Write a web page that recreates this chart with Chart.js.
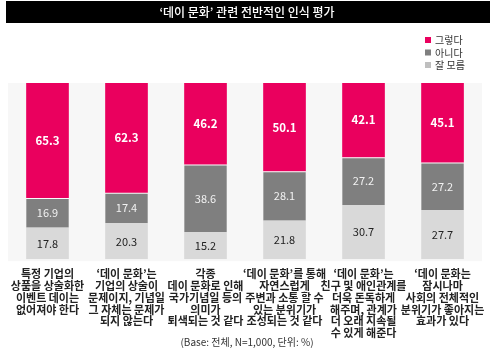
<!DOCTYPE html>
<html><head><meta charset="utf-8">
<script src="https://cdn.jsdelivr.net/npm/chart.js@4"></script>
<style>html,body{margin:0;padding:0;background:#fff;}canvas{display:block;}</style>
</head><body>
<canvas id="c" width="494" height="355"></canvas>
<script>
const titleText = "‘데이 문화’ 관련 전반적인 인식 평가";
const footnote = "(Base: 전체, N=1,000, 단위: %)";
const categories = [
  ["특정 기업의","상품을 상술화한","이벤트 데이는","없어져야 한다"],
  ["‘데이 문화’는","기업의 상술이","문제이지, 기념일","그 자체는 문제가","되지 않는다"],
  ["각종","데이 문화로 인해","국가기념일 등의","의미가","퇴색되는 것 같다"],
  ["‘데이 문화’를 통해","자연스럽게","주변과 소통 할 수","있는 분위기가","조성되는 것 같다"],
  ["‘데이 문화’는","친구 및 애인관계를","더욱 돈독하게","해주며, 관계가","더 오래 지속될","수 있게 해준다"],
  ["‘데이 문화는","잠시나마","사회의 전체적인","분위기가 좋아지는","효과가 있다"]
];
const seriesNames = ["그렇다","아니다","잘 모름"];
const yes = [65.3, 62.3, 46.2, 50.1, 42.1, 45.1];
const no = [16.9, 17.4, 38.6, 28.1, 27.2, 27.2];
const dunno = [17.8, 20.3, 15.2, 21.8, 30.7, 27.7];

const FONT = "'Noto Sans CJK KR', 'Noto Sans', sans-serif";
const PINK = "#EA005E", GRAY = "#7F7F7F", LIGHT = "#D9D9D9";
const legendColors = [PINK, GRAY, "#BFBFBF"];

const decor = {
  id: 'decor',
  beforeDraw(chart) {
    const {ctx, chartArea: a} = chart;
    ctx.save();
    ctx.fillStyle = "#F7F7F7";
    ctx.fillRect(a.left, a.top, a.right - a.left, a.bottom - a.top + 2);
    ctx.fillStyle = "#000";
    ctx.fillRect(6, 1, 484, 22);
    ctx.fillStyle = "#fff";
    ctx.font = "500 12px " + FONT;
    ctx.textAlign = "center"; ctx.textBaseline = "middle";
    ctx.fillText(titleText, 247, 12.5);
    ctx.font = "10px " + FONT;
    ctx.textAlign = "left";
    seriesNames.forEach((n, i) => {
      const y = 40 + i * 12.5;
      ctx.fillStyle = legendColors[i];
      ctx.fillRect(425, y - 3, 6, 6);
      ctx.fillStyle = "#333";
      ctx.fillText(n, 435, y + 0.5);
    });
    ctx.font = "10px " + FONT;
    ctx.textAlign = "center";
    ctx.fillStyle = "#333";
    ctx.fillText(footnote, 247, 342);
    ctx.restore();
  },
  afterDatasetsDraw(chart) {
    const {ctx} = chart;
    ctx.save();
    ctx.textAlign = "center"; ctx.textBaseline = "middle";
    chart.data.datasets.forEach((ds, di) => {
      const meta = chart.getDatasetMeta(di);
      meta.data.forEach((el, i) => {
        const v = ds.data[i];
        const y = (el.y + el.base) / 2;
        if (ds.label === "그렇다") { ctx.font = "bold 11.5px " + FONT; ctx.fillStyle = "#fff"; }
        else if (ds.label === "아니다") { ctx.font = "11px " + FONT; ctx.fillStyle = "#F2F2F2"; }
        else { ctx.font = "11px " + FONT; ctx.fillStyle = "#222"; }
        ctx.fillText(v.toFixed(1), el.x, y);
      });
    });
    ctx.restore();
  }
};

new Chart(document.getElementById('c'), {
  type: 'bar',
  data: {
    labels: categories,
    datasets: [
      {label: seriesNames[2], data: dunno, backgroundColor: LIGHT},
      {label: seriesNames[1], data: no, backgroundColor: GRAY, borderColor: "rgba(255,255,255,0.35)", borderWidth: {top: 1}, borderSkipped: false},
      {label: seriesNames[0], data: yes, backgroundColor: PINK, borderColor: "rgba(255,255,255,0.35)", borderWidth: {top: 0}, borderSkipped: false}
    ]
  },
  options: {
    responsive: false,
    animation: false,
    layout: {padding: {top: 83, left: 8, right: 9, bottom: 7}},
    plugins: {legend: {display: false}, tooltip: {enabled: false}, title: {display: false}},
    datasets: {bar: {categoryPercentage: 1, barPercentage: 0.54}},
    scales: {
      x: {
        stacked: true,
        grid: {display: false, drawTicks: false},
        border: {display: false},
        ticks: {
          autoSkip: false, maxRotation: 0, minRotation: 0, padding: 9,
          color: "#222",
          font: {family: FONT, size: 11, weight: 'bold', lineHeight: '11.8px'}
        }
      },
      y: {stacked: true, display: false, min: 0, max: 100}
    }
  },
  plugins: [decor]
});
</script>
</body></html>
